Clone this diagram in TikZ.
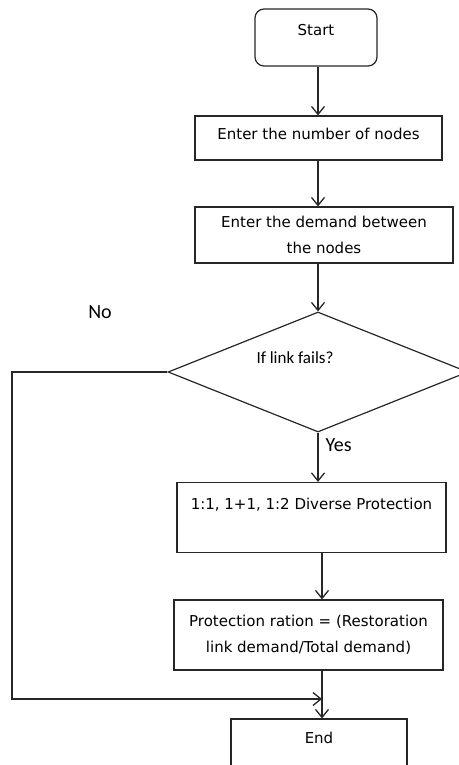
\documentclass[tikz,border=0pt]{standalone}
\usepackage{fontspec}
\setmainfont{DejaVu Sans}
\newfontfamily\calibfont{Carlito}
\usetikzlibrary{shapes.geometric,arrows.meta}

\tikzset{
    box/.style={draw=black!85, line width=1.2pt, rectangle, inner sep=0pt,
        font=\fontsize{15}{26}\selectfont, align=center},
    startbox/.style={box, rounded corners=9pt},
    decision/.style={draw=black!85, line width=1.2pt, diamond, inner sep=0pt,
        minimum width=300pt, minimum height=120pt},
    flow/.style={draw=black!85, line width=1.3pt,
        -{Straight Barb[length=8pt,width=13pt,line width=1.3pt]}},
    answer/.style={font=\calibfont\fontsize{20}{24}\selectfont, inner sep=2pt}
}

\begin{document}
\begin{tikzpicture}[x=1pt, y=-1pt]
        \useasboundingbox (0,0) rectangle (458,765);

        % Boxes
        \node[startbox, minimum width=122pt, minimum height=57pt,
            text height=11pt, text depth=15pt] (start) at (316,37.5) {Start};
        \node[box, minimum width=247pt, minimum height=44pt,
            text height=11pt, text depth=8pt] (nodes) at (318.5,138) {Enter the number of nodes};
        \node[box, minimum width=258pt, minimum height=56pt] (demand) at (324,235)
            {Enter the demand between\\the nodes};
        \node[decision] (fails) at (318,372) {};
        \node[font=\calibfont\fontsize{17}{20}\selectfont] (failstext) at (295,358) {If link fails?};
        \node[box, minimum width=269pt, minimum height=70pt,
            text height=11pt, text depth=27pt] (protect) at (311.5,517.5)
            {1:1, 1+1, 1:2 Diverse Protection};
        \node[box, minimum width=269pt, minimum height=70pt] (ratio) at (308.5,635)
            {Protection ration = (Restoration\\link demand/Total demand)};
        \node[box, minimum width=176pt, minimum height=56pt,
            text height=11pt, text depth=19pt] (end) at (319,747) {End};

        \node[answer] (no) at (100,312) {No};
        \coordinate (bend) at (12,699);
        \coordinate (merge) at (322,699);

        % Draw flow
        \draw[flow] (fails |- start.south) -- (fails |- nodes.north);
        \draw[flow] (fails |- nodes.south) -- (fails |- demand.north);
        \draw[flow] (fails |- demand.south) -- (fails.north);
        \draw[flow] (fails.south) -- node[answer, right, pos=0.26, xshift=5pt] (yes) {Yes}
            (fails.south |- protect.north);
        \draw[flow] (merge |- protect.south) -- (merge |- ratio.north);
        \draw[flow] (merge |- ratio.south) -- (merge |- end.north);
        \draw[flow] (fails.west) -| (bend) -- (merge);
    \end{tikzpicture}
\end{document}
